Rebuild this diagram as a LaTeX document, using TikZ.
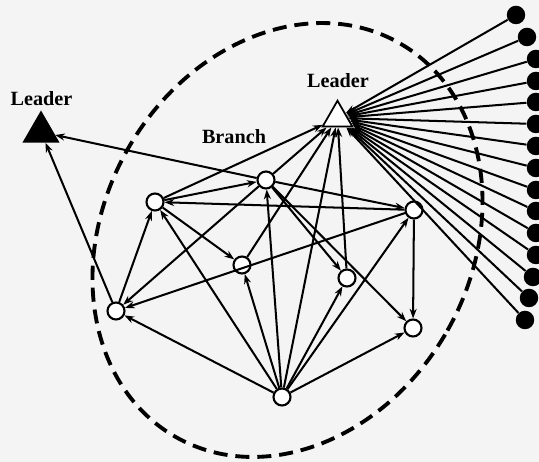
\documentclass[tikz,border=0pt]{standalone}
\usepackage{fontspec}
\setmainfont{Liberation Serif}
\usetikzlibrary{arrows.meta,shapes.geometric}

\definecolor{paper}{RGB}{244,244,244}

\begin{document}
\begin{tikzpicture}[
  x=0.02cm, y=0.02cm,
  member/.style={circle, draw, line width=1.2pt, fill=white, minimum size=0.34cm, inner sep=0pt},
  head/.style={regular polygon, regular polygon sides=3, draw, line width=1pt, inner sep=0pt},
  peer/.style={circle, fill=black, minimum size=0.37cm, inner sep=0pt},
  lbl/.style={font=\bfseries\fontsize{11.5}{13}\selectfont, inner sep=0pt},
  arr/.style={-{Stealth[length=5.5pt, width=4pt]}, line width=1.15pt},
  ring/.style={line width=2.2pt, dash pattern=on 8pt off 4.5pt},
]
\fill[paper] (0,0) rectangle (539,462);
\useasboundingbox (0,0) rectangle (539,462);

\coordinate (ctr) at (287.5,222);
\draw[ring, rotate around={-29.5:(ctr)}] (ctr) ellipse [x radius=183.8, y radius=226.5];

\node[head, fill=white, minimum size=0.69cm] (lead) at (337.5,344) {};
\node[head, fill=black, minimum size=0.79cm] (out)  at (41,330)    {};
\node[lbl] (leadtxt) at (338,381)   {Leader};
\node[lbl] (outtxt)  at (41.5,363)  {Leader};
\node[lbl] (brtxt)   at (234,325)   {Branch};

\node[member] (a) at (116,151) {};
\node[member] (b) at (155,260) {};
\node[member] (c) at (266,282) {};
\node[member] (d) at (414,252) {};
\node[member] (e) at (242,197) {};
\node[member] (f) at (347,184) {};
\node[member] (g) at (413,134) {};
\node[member] (h) at (282,65)  {};

\foreach \px/\py [count=\i] in {516/447, 527/425, 536/403, 536/381, 536/360,
    536/338, 536/316, 536/294, 536/272, 536/251, 536/229, 536/207,
    533/185, 529/164, 525/142} {
  \node[peer] (p\i) at (\px,\py) {};
  \draw[arr] (p\i) -- (lead);
}

\draw[arr] (c) -- (out);
\draw[arr] (a) -- (out);
\draw[arr] (b) -- (lead);
\draw[arr] (c) -- (lead);
\draw[arr] (e) -- (lead);
\draw[arr] (h) -- (lead);
\draw[arr] (f) -- (lead);
\draw[arr] (b) -- (c);
\draw[arr] (d) -- (b);
\draw[arr] (c) -- (d);
\draw[arr] (b) -- (e);
\draw[arr] (a) -- (b);
\draw[arr] (c) -- (a);
\draw[arr] (d) -- (a);
\draw[arr] (h) -- (a);
\draw[arr] (h) -- (e);
\draw[arr] (h) -- (b);
\draw[arr] (h) -- (c);
\draw[arr] (c) -- (f);
\draw[arr] (c) -- (g);
\draw[arr] (d) -- (g);
\draw[arr] (h) -- (d);
\draw[arr] (h) -- (f);
\draw[arr] (h) -- (g);
\end{tikzpicture}
\end{document}
